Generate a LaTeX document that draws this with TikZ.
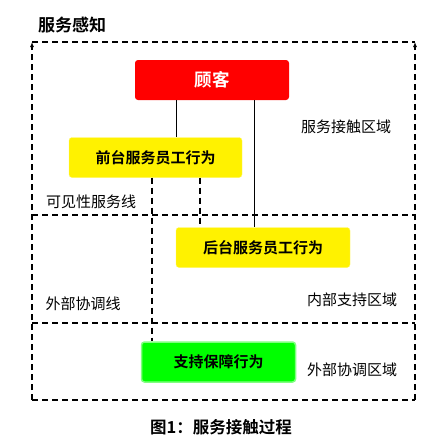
\documentclass[tikz,border=0pt]{standalone}
\usepackage{fontspec}
\setmainfont{Noto Sans CJK SC}[BoldFont={Noto Sans CJK SC Bold}]
\usetikzlibrary{positioning, arrows.meta}

\tikzset{
  act/.style={rounded corners=3pt, minimum height=40pt, font=\bfseries\fontsize{15}{17}\selectfont, inner sep=0pt},
  zone/.style={dash pattern=on 6pt off 4pt, line width=1.1pt},
  zonetip/.style={zone, -{Latex[length=5pt,width=4pt]}},
  lbl/.style={font=\fontsize{15}{17}\selectfont, inner sep=0pt},
  link/.style={line width=1pt}
}

\begin{document}
\begin{tikzpicture}[x=1pt, y=-1pt]

\useasboundingbox (0,0) rectangle (443,447);

% boxes
\node[act, fill=red, text=white, minimum width=154pt, font=\bfseries\fontsize{17.5}{19}\selectfont] (customer) at (212,80) {顾客};
\node[act, fill=yellow, draw=yellow!60, minimum width=173pt] (front) at (155.5,157.5) {前台服务员工行为};
\node[act, fill=yellow, draw=yellow!60, minimum width=174pt] (back) at (263,247.5) {后台服务员工行为};
\node[act, fill=green, draw=green!50, line width=1.5pt, minimum width=154pt] (support) at (218.5,362) {支持保障行为};

% zones
\coordinate (nw) at (32,42);
\coordinate (ne) at (415,42);
\coordinate (sw) at (32,400);
\coordinate (se) at (415,400);
\coordinate (vis) at (32,215);
\coordinate (ext) at (32,323);
\draw[zonetip] (sw) -- (nw);
\draw[zonetip] (se) -- (ne);
\draw[zone] (nw) -- (ne);
\draw[zone] (sw) -- (se);
\draw[zone] (vis) -- (vis -| ne);
\draw[zone] (ext) -- (ext -| ne);

% connectors
\coordinate (x1) at (176,0);
\coordinate (x2) at (254,0);
\coordinate (x3) at (152,0);
\coordinate (x4) at (200,0);
\draw[link] (customer.south -| x1) -- (front.north -| x1);
\draw[link] (customer.south -| x2) -- (back.north -| x2);
\draw[zone] (front.south -| x3) -- (support.north -| x3);
\draw[zone] (front.south -| x4) -- (back.north -| x4);

% labels
\node[lbl, font=\bfseries\fontsize{17}{19}\selectfont, anchor=west] (title) at (38,25) {服务感知};
\node[lbl] (contact) at (346,127) {服务接触区域};
\node[lbl] (visline) at (91,202) {可见性服务线};
\node[lbl] (extline) at (83,304) {外部协调线};
\node[lbl] (inner) at (352,300) {内部支持区域};
\node[lbl] (outer) at (352,370) {外部协调区域};
\node[lbl, font=\bfseries\fontsize{16.5}{18}\selectfont] (caption) at (221,427) {图1：服务接触过程};

\end{tikzpicture}
\end{document}
